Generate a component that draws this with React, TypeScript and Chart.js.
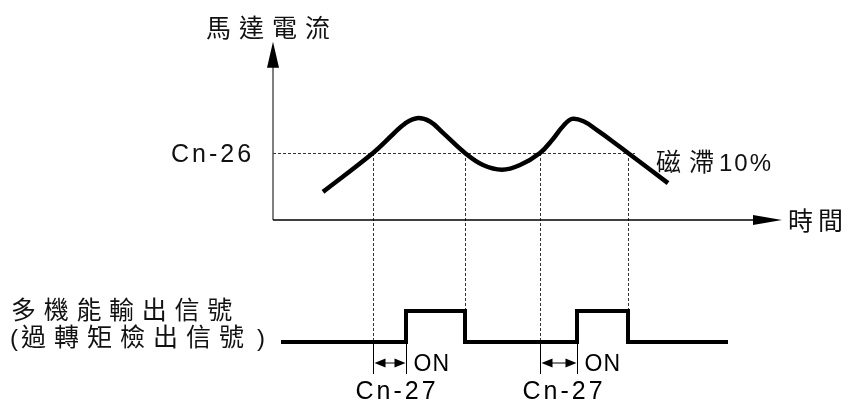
import React, { useEffect, useRef } from "react";
import { Chart, registerables } from "chart.js";

Chart.register(...registerables);

// ---- Data (time in arbitrary units, current in % of rated) ----
const CURRENT_T = [5.0, 10.0, 12.0, 13.2, 14.4, 15.7, 17.0, 19.2, 21.0, 22.9, 24.7, 26.7, 28.0, 29.0, 29.9, 31.1, 32.4, 33.9, 35.5, 39.5];
const CURRENT_I = [42, 100, 128, 144, 152, 147, 130, 100, 82, 75, 82, 100, 121, 140, 151, 147, 134, 118, 100, 55];
const THRESHOLD = 100; // Cn-26 level
const THRESHOLD_END_T = 36.2;
const CROSS_T = [10.0, 19.2, 26.7, 35.5]; // times the current crosses Cn-26
const CROSS_DIR = [1, -1, 1, -1];
const SIGNAL_T = [0.8, 13.3, 19.2, 30.4, 35.5, 45.5];
const SIGNAL_V = [0, 1, 0, 1, 0, 0];
const AXIS_T_END = 50.9;
const AXIS_I_END = 266;

const TITLE_Y = "馬達電流";
const TITLE_X = "時間";
const LABEL_TH = "Cn-26";
const LABEL_HYS_CJK = "磁滯";
const LABEL_HYS_NUM = "10%";
const LABEL_DELAY = "Cn-27";
const LABEL_ON = "ON";
const LABEL_SIG1 = "多機能輸出信號";
const LABEL_SIG2 = "過轉矩檢出信號";

const CJK = '"Noto Sans CJK TC", "Noto Sans CJK SC", sans-serif';
const LAT = '"Liberation Sans", Arial, "Noto Sans CJK TC", sans-serif';

export default function App() {
  const ref = useRef<HTMLCanvasElement | null>(null);
  useEffect(() => {
    document.body.style.margin = "0";
    const canvas = ref.current!;
    const overlay = {
      id: "overlay",
      beforeDatasetsDraw(chart: any) {
        const ctx = chart.ctx as CanvasRenderingContext2D;
        const xs = chart.scales.x, yc = chart.scales.y, ys = chart.scales.ys;
        const X = (t: number) => xs.getPixelForValue(t);
        const YC = (v: number) => yc.getPixelForValue(v);
        const YS = (v: number) => ys.getPixelForValue(v);
        const sp = (v: number) => { (ctx as any).letterSpacing = v + "px"; };
        ctx.save();
        // dashed guides
        ctx.strokeStyle = "#333";
        ctx.lineWidth = 1;
        ctx.setLineDash([3, 2]);
        ctx.beginPath();
        ctx.moveTo(X(0), Math.round(YC(THRESHOLD)) + 0.5);
        ctx.lineTo(X(THRESHOLD_END_T), Math.round(YC(THRESHOLD)) + 0.5);
        CROSS_T.forEach((t, i) => {
          const x = Math.round(X(t)) + 0.5;
          ctx.moveTo(x, YC(THRESHOLD));
          ctx.lineTo(x, YS(CROSS_DIR[i] > 0 ? 0 : 1));
        });
        ctx.stroke();
        ctx.setLineDash([]);
        // axes
        ctx.strokeStyle = "#555";
        ctx.lineWidth = 1.5;
        ctx.beginPath();
        ctx.moveTo(X(0), YC(0));
        ctx.lineTo(X(0), YC(AXIS_I_END) + 20);
        ctx.stroke();
        ctx.strokeStyle = "#000";
        ctx.beginPath();
        ctx.moveTo(X(0), YC(0));
        ctx.lineTo(X(AXIS_T_END) - 20, YC(0));
        ctx.stroke();
        ctx.fillStyle = "#000";
        ctx.beginPath();
        ctx.moveTo(X(0), YC(AXIS_I_END));
        ctx.lineTo(X(0) - 6, YC(AXIS_I_END) + 26);
        ctx.lineTo(X(0) + 6, YC(AXIS_I_END) + 26);
        ctx.closePath();
        ctx.fill();
        ctx.beginPath();
        ctx.moveTo(X(AXIS_T_END), YC(0));
        ctx.lineTo(X(AXIS_T_END) - 29, YC(0) - 5);
        ctx.lineTo(X(AXIS_T_END) - 29, YC(0) + 5);
        ctx.closePath();
        ctx.fill();
        // delay markers
        const yb = YS(0) + 32;
        const ya = YS(0) + 21;
        ctx.strokeStyle = "#000";
        ctx.lineWidth = 1;
        ctx.textBaseline = "alphabetic";
        CROSS_T.forEach((t, i) => {
          if (CROSS_DIR[i] < 0) return;
          const rise = SIGNAL_T[SIGNAL_V.findIndex((v, k) => v === 1 && SIGNAL_T[k] > t)];
          const x1 = Math.round(X(t)) + 0.5;
          const x2 = Math.round(X(rise)) + 0.5;
          ctx.beginPath();
          ctx.moveTo(x1, YS(0));
          ctx.lineTo(x1, yb);
          ctx.moveTo(x2, YS(0));
          ctx.lineTo(x2, yb);
          ctx.moveTo(x1 + 5, ya);
          ctx.lineTo(x2 - 5, ya);
          ctx.stroke();
          ctx.beginPath();
          ctx.moveTo(x1 + 1, ya);
          ctx.lineTo(x1 + 12, ya - 4.5);
          ctx.lineTo(x1 + 12, ya + 4.5);
          ctx.closePath();
          ctx.moveTo(x2 - 1, ya);
          ctx.lineTo(x2 - 12, ya - 4.5);
          ctx.lineTo(x2 - 12, ya + 4.5);
          ctx.closePath();
          ctx.fill();
          ctx.textAlign = "left";
          ctx.font = `23px ${LAT}`;
          sp(1);
          ctx.fillText(LABEL_ON, x2 + 7, ya + 8);
          ctx.font = `25px ${LAT}`;
          sp(3);
          ctx.fillText(LABEL_DELAY, x1 - 18, yb + 25);
        });
        // texts
        ctx.fillStyle = "#111";
        ctx.textAlign = "left";
        ctx.textBaseline = "alphabetic";
        ctx.font = `25px ${CJK}`;
        sp(8);
        ctx.fillText(TITLE_Y, X(0) - 67, 37);
        sp(5);
        ctx.fillText(TITLE_X, X(AXIS_T_END) + 6, YC(0) + 10);
        sp(7.7);
        ctx.fillText(LABEL_SIG1, 11, YS(1) + 8);
        sp(8);
        ctx.fillText(LABEL_SIG2, 21, YS(0) + 4);
        ctx.font = `24px ${LAT}`;
        sp(0);
        ctx.fillText("(", 10, YS(0) + 4);
        ctx.fillText(")", 257, YS(0) + 4);
        sp(3);
        ctx.font = `25px ${LAT}`;
        ctx.fillText(LABEL_TH, X(0) - 102, YC(THRESHOLD) + 9);
        ctx.font = `25px ${CJK}`;
        sp(8);
        ctx.fillText(LABEL_HYS_CJK, X(THRESHOLD_END_T) + 21, YC(THRESHOLD) + 18);
        ctx.font = `24px ${LAT}`;
        sp(2);
        ctx.fillText(LABEL_HYS_NUM, X(THRESHOLD_END_T) + 84, YC(THRESHOLD) + 18);
        ctx.restore();
      },
    };
    const chart = new Chart(canvas, {
      type: "line",
      data: {
        datasets: [
          {
            data: CURRENT_T.map((t, i) => ({ x: t, y: CURRENT_I[i] })),
            borderColor: "#000",
            borderWidth: 4.5,
            pointRadius: 0,
            tension: 0.4,
            yAxisID: "y",
            borderCapStyle: "butt",
          },
          {
            data: SIGNAL_T.map((t, i) => ({ x: t, y: SIGNAL_V[i] })),
            borderColor: "#000",
            borderWidth: 4,
            pointRadius: 0,
            stepped: "before",
            yAxisID: "ys",
            borderJoinStyle: "miter",
          },
        ],
      },
      options: {
        responsive: false,
        animation: false,
        layout: { padding: 0 },
        plugins: { legend: { display: false }, tooltip: { enabled: false } },
        scales: {
          x: { type: "linear", min: -27.3, max: 57.7, display: false },
          y: { type: "linear", min: -270.15, max: 328.36, display: false },
          ys: { type: "linear", min: -1.903, max: 11.032, display: false },
        },
      },
      plugins: [overlay],
    });
    return () => chart.destroy();
  }, []);
  return (
    <div style={{ position: "fixed", left: 0, top: 0, width: 850, height: 401, background: "#fff" }}>
      <canvas ref={ref} width={850} height={401} style={{ width: 850, height: 401 }} />
    </div>
  );
}
